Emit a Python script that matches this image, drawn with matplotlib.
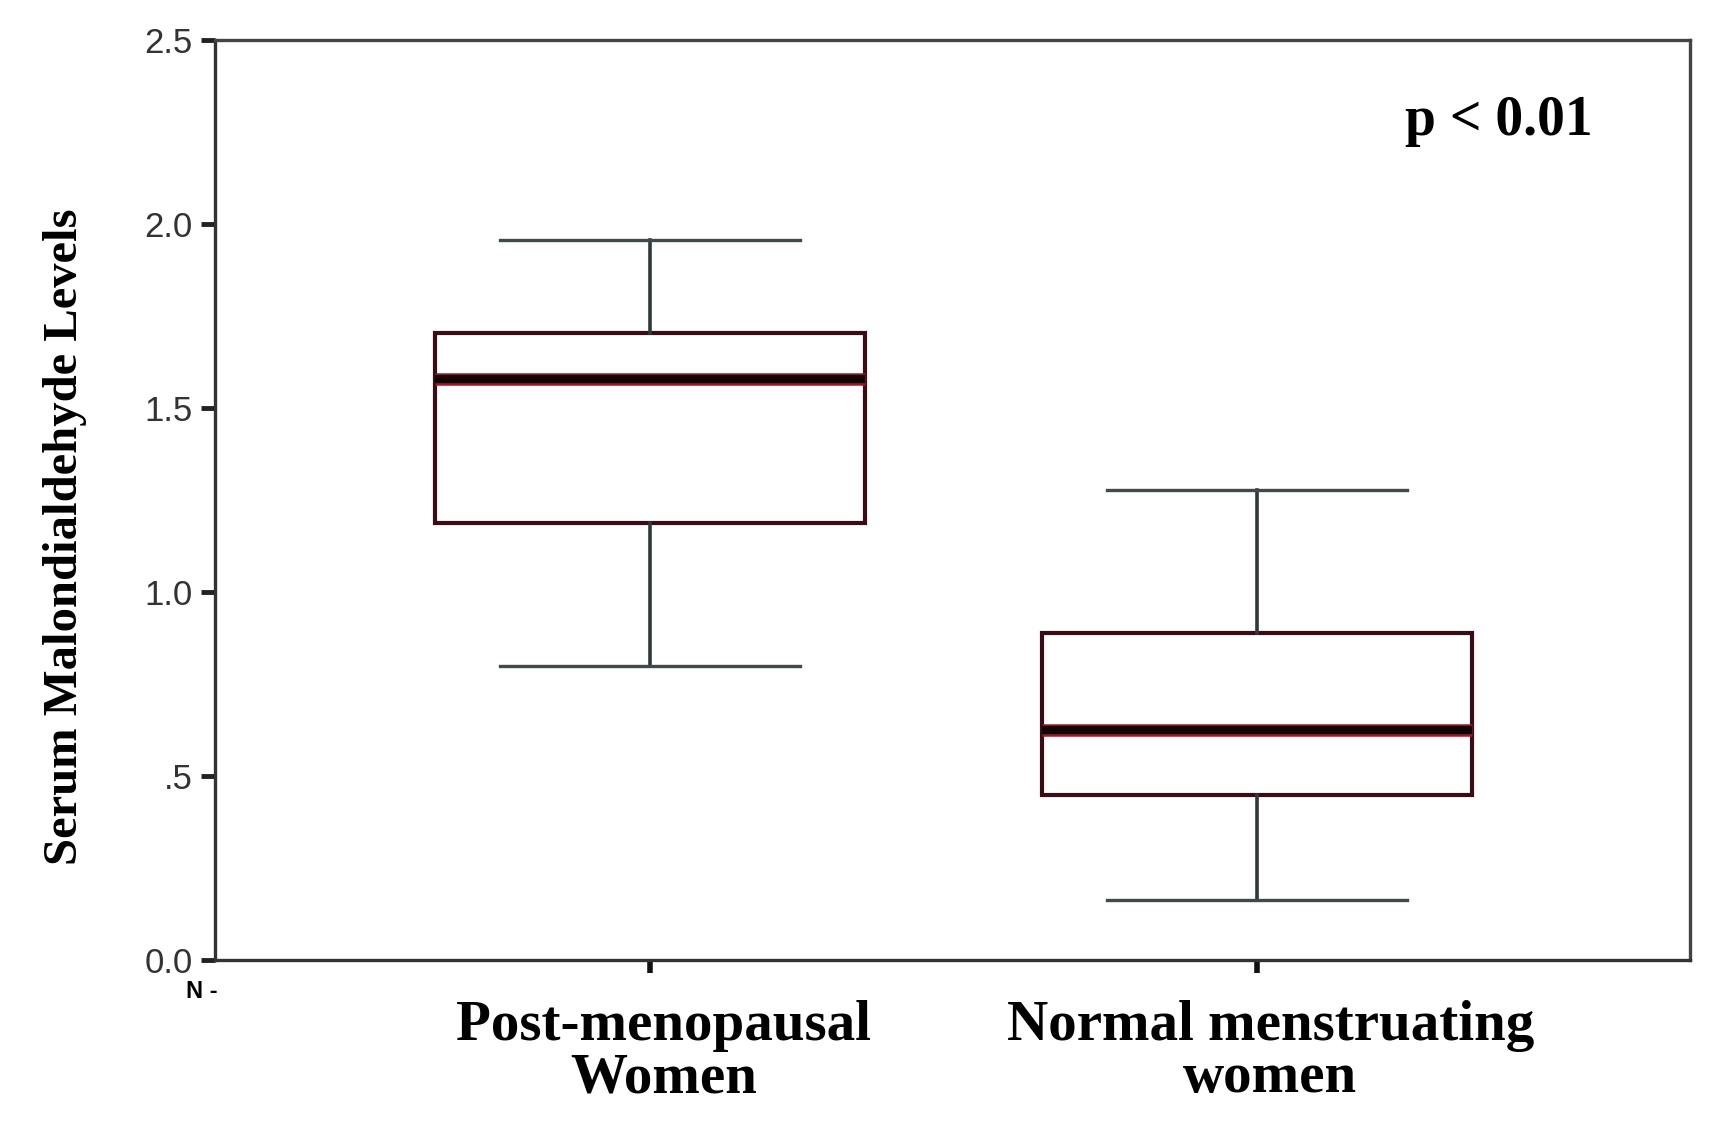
import matplotlib
matplotlib.use("Agg")
from matplotlib import pyplot as plt
import matplotlib.patheffects as pe
import matplotlib.transforms as mtransforms

# valores
grupos = ["Post-menopausal\nWomen", "Normal menstruating\nwomen"]
bigote_alto = [1.957, 1.277]
q3 = [1.703, 0.889]
mediana = [1.579, 0.625]
q1 = [1.187, 0.448]
bigote_bajo = [0.80, 0.163]
ticks_y = [0.0, 0.5, 1.0, 1.5, 2.0, 2.5]
etiquetas_y = ["0.0", ".5", "1.0", "1.5", "2.0", "2.5"]


def graficar():
    fig = plt.figure(figsize=(17.17, 11.26), dpi=100)
    ax = fig.add_axes([0.1252, 0.1474, 0.8591, 0.8171])

    stats = []
    for i in range(len(grupos)):
        stats.append({
            "whishi": bigote_alto[i], "q3": q3[i], "med": mediana[i],
            "q1": q1[i], "whislo": bigote_bajo[i], "fliers": [],
        })

    ax.bxp(stats, positions=[1, 2], widths=0.708, capwidths=0.494,
           showfliers=False, patch_artist=True,
           boxprops=dict(facecolor="white", edgecolor="#3a0c14", linewidth=3),
           whiskerprops=dict(color="#2f3a3a", linewidth=2.6),
           capprops=dict(color="#3f4a4a", linewidth=2.4),
           medianprops=dict(color="#140305", linewidth=6,
                            path_effects=[pe.Stroke(linewidth=9, foreground="#9a1a2a"),
                                          pe.Normal()]))

    ax.set_xlim(0.283, 2.713)
    ax.set_ylim(0, 2.5)
    ax.set_yticks(ticks_y)
    ax.set_yticklabels(etiquetas_y, family="Liberation Sans", fontsize=25, color="#333333")
    ax.set_xticks([1, 2])
    ax.set_xticklabels(grupos, family="Liberation Serif", fontweight="bold",
                       fontsize=41, linespacing=1.0)
    ax.tick_params(axis="y", length=10, width=3.5, color="#222222", pad=6)
    ax.tick_params(axis="x", length=9, width=4, color="#111111", pad=20)

    # las etiquetas del eje x estan un poco a la derecha de cada marca
    desplaza = mtransforms.ScaledTranslation(0.13, 0, fig.dpi_scale_trans)
    for lbl in ax.get_xticklabels():
        lbl.set_transform(lbl.get_transform() + desplaza)

    for lado in ["left", "bottom", "top", "right"]:
        ax.spines[lado].set_linewidth(2.4)
        ax.spines[lado].set_color("#333333")
    ax.spines["top"].set_color("#444444")
    ax.spines["right"].set_color("#444444")

    ax.set_ylabel("Serum Malondialdehyde Levels", family="Liberation Serif",
                  fontweight="bold", fontsize=35)
    ax.yaxis.set_label_coords(-0.087, 0.46)

    ax.text(0.807, 0.897, "p < 0.01", transform=ax.transAxes, family="Liberation Serif",
            fontweight="bold", fontsize=40, ha="left", va="baseline")
    fig.text(186 / 1717, 1 - 998 / 1126, "N -", family="Liberation Sans",
             fontweight="bold", fontsize=17, ha="left", va="baseline")

    fig.savefig("out.png", dpi=100)


if __name__ == '__main__':
    graficar()
